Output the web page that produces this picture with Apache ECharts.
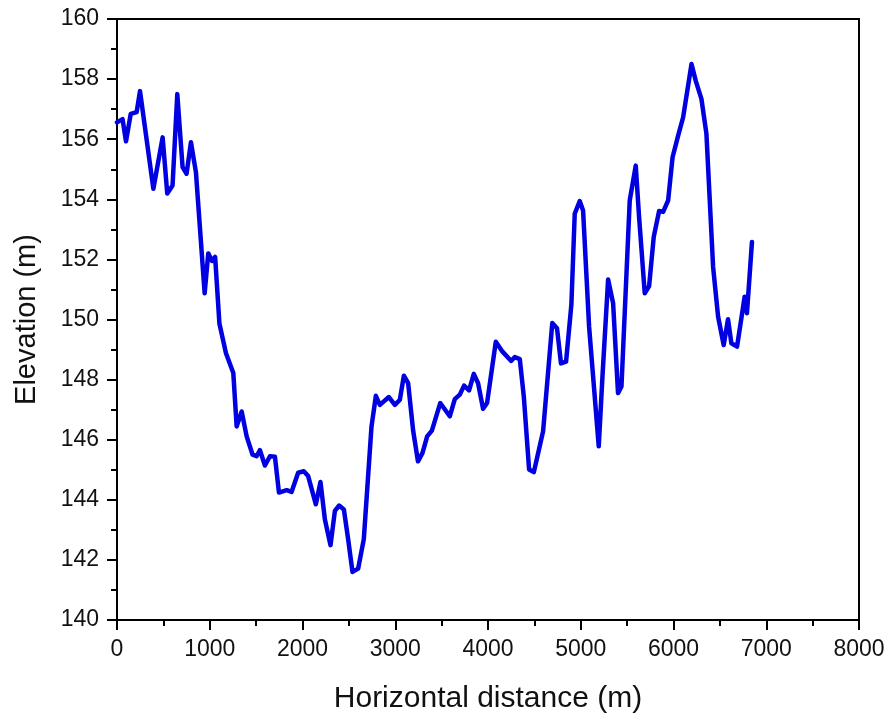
<!DOCTYPE html>
<html>
<head>
<meta charset="utf-8">
<script src="https://cdn.jsdelivr.net/npm/echarts@6/dist/echarts.min.js"></script>
<style>html,body{margin:0;padding:0;background:#fff;}#c{width:890px;height:719px;}</style>
</head>
<body>
<div id="c"></div>
<script>
const distance = [0,60,97,148,212,248,392,492,542,599,650,707,750,797,851,945,984,1025,1058,1104,1175,1254,1290,1344,1398,1462,1505,1541,1595,1649,1703,1746,1829,1882,1953,2014,2061,2144,2194,2241,2302,2349,2395,2446,2492,2539,2600,2661,2744,2791,2834,2931,2996,3050,3093,3139,3193,3245,3294,3344,3395,3485,3588,3642,3696,3742,3796,3847,3893,3947,3990,4084,4156,4250,4289,4343,4386,4443,4494,4594,4693,4744,4787,4842,4899,4935,4989,5025,5090,5194,5234,5295,5349,5402,5439,5528,5593,5629,5690,5737,5787,5845,5888,5942,5990,6050,6104,6194,6240,6301,6355,6427,6481,6541,6588,6624,6685,6721,6767,6792,6846];
const elevation = [156.56,156.67,155.93,156.84,156.9,157.6,154.35,156.06,154.19,154.46,157.5,155.07,154.85,155.9,154.9,150.87,152.2,151.95,152.08,149.87,148.88,148.22,146.44,146.94,146.11,145.5,145.45,145.65,145.14,145.45,145.43,144.24,144.32,144.26,144.9,144.95,144.79,143.85,144.59,143.35,142.49,143.63,143.81,143.68,142.69,141.6,141.71,142.69,146.44,147.46,147.16,147.42,147.16,147.33,148.13,147.88,146.3,145.28,145.56,146.11,146.3,147.22,146.78,147.35,147.5,147.8,147.64,148.19,147.88,147.03,147.22,149.26,148.93,148.62,148.75,148.68,147.44,145.01,144.92,146.28,149.88,149.71,148.54,148.6,150.5,153.52,153.94,153.63,149.76,145.78,148.1,151.33,150.54,147.55,147.77,153.96,155.12,153.41,150.87,151.11,152.75,153.61,153.58,153.96,155.4,156.12,156.73,158.5,157.94,157.34,156.18,151.75,150.09,149.15,150.01,149.21,149.1,149.82,150.76,150.21,152.58];
const xTitle = 'Horizontal distance (m)';
const yTitle = 'Elevation (m)';

const chart = echarts.init(document.getElementById('c'), null, {renderer: 'canvas'});
const font = 'Liberation Sans, Arial, sans-serif';
chart.setOption({
  animation: false,
  backgroundColor: '#fff',
  grid: {left: 117, right: 31, top: 19, bottom: 97, show: true, borderColor: '#000', borderWidth: 2, containLabel: false},
  xAxis: {
    type: 'value', min: 0, max: 8000, interval: 1000,
    name: xTitle, nameLocation: 'middle', nameGap: 64,
    nameTextStyle: {fontFamily: font, fontSize: 30, color: '#111'},
    axisLine: {show: true, onZero: false, lineStyle: {color: '#000', width: 2}},
    axisTick: {show: true, inside: false, length: 10, lineStyle: {color: '#000', width: 2}},
    minorTick: {show: true, splitNumber: 2, length: 6, lineStyle: {color: '#000', width: 2}},
    axisLabel: {fontFamily: font, fontSize: 23, color: '#111', margin: 18, formatter: v => String(v)},
    splitLine: {show: false}
  },
  yAxis: {
    type: 'value', min: 140, max: 160, interval: 2,
    name: yTitle, nameLocation: 'middle', nameGap: 76, nameRotate: 90,
    nameTextStyle: {fontFamily: font, fontSize: 29, color: '#111'},
    axisLine: {show: true, onZero: false, lineStyle: {color: '#000', width: 2}},
    axisTick: {show: true, inside: false, length: 10, lineStyle: {color: '#000', width: 2}},
    minorTick: {show: true, splitNumber: 2, length: 6, lineStyle: {color: '#000', width: 2}},
    axisLabel: {fontFamily: font, fontSize: 23, color: '#111', margin: 18, formatter: v => String(v)},
    splitLine: {show: false}
  },
  series: [{
    type: 'line',
    data: distance.map((d, i) => [d, elevation[i]]),
    showSymbol: false,
    lineStyle: {color: '#0000e0', width: 4.5, join: 'round', cap: 'round'},
    itemStyle: {color: '#0000e0'}
  }]
});
</script>
</body>
</html>
